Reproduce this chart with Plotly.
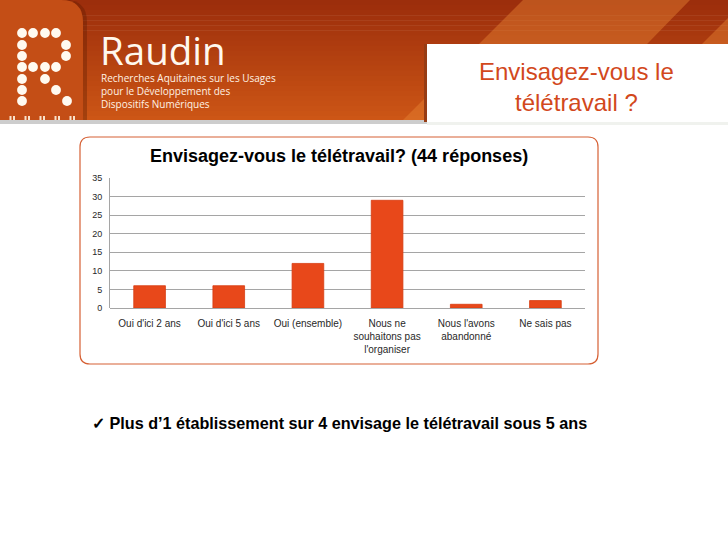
import plotly.graph_objects as go

# ---- data ----
categories = ["Oui d'ici 2 ans", "Oui d'ici 5 ans", "Oui (ensemble)",
              "Nous ne souhaitons pas l'organiser", "Nous l'avons abandonné", "Ne sais pas"]
tick_labels = ["Oui d'ici 2 ans", "Oui d'ici 5 ans", "Oui (ensemble)",
               "Nous ne<br>souhaitons pas<br>l'organiser", "Nous l'avons<br>abandonné", "Ne sais pas"]
values = [6, 6, 12, 29, 1, 2]
y_ticks = [0, 5, 10, 15, 20, 25, 30, 35]

chart_title = "Envisagez-vous le télétravail? (44 réponses)"
slide_title = "Envisagez-vous le<br>télétravail ?"
bullet_text = "✓ Plus d’1 établissement sur 4 envisage le télétravail sous 5 ans"
brand = "Raudin"
brand_lines = ["Recherches Aquitaines sur les Usages",
               "pour le Développement des",
               "Dispositifs Numériques"]

W, H = 728, 546
FONT = "Liberation Sans, Arial, sans-serif"


def X(p):
    return p / W


def Y(p):
    return 1 - p / H


def rrect_path(x0, y0, x1, y1, r, corners=(True, True, True, True)):
    tl, tr, br, bl = corners
    rx = lambda v: f"{X(v):.5f}"
    ry = lambda v: f"{Y(v):.5f}"
    p = []
    p.append(f"M {rx(x0 + (r if tl else 0))},{ry(y0)}")
    if tr:
        p.append(f"L {rx(x1 - r)},{ry(y0)}")
        p.append(f"Q {rx(x1)},{ry(y0)} {rx(x1)},{ry(y0 + r)}")
    else:
        p.append(f"L {rx(x1)},{ry(y0)}")
    if br:
        p.append(f"L {rx(x1)},{ry(y1 - r)}")
        p.append(f"Q {rx(x1)},{ry(y1)} {rx(x1 - r)},{ry(y1)}")
    else:
        p.append(f"L {rx(x1)},{ry(y1)}")
    if bl:
        p.append(f"L {rx(x0 + r)},{ry(y1)}")
        p.append(f"Q {rx(x0)},{ry(y1)} {rx(x0)},{ry(y1 - r)}")
    else:
        p.append(f"L {rx(x0)},{ry(y1)}")
    if tl:
        p.append(f"L {rx(x0)},{ry(y0 + r)}")
        p.append(f"Q {rx(x0)},{ry(y0)} {rx(x0 + r)},{ry(y0)}")
    else:
        p.append(f"L {rx(x0)},{ry(y0)}")
    p.append("Z")
    return " ".join(p)


def poly_path(pts):
    return "M " + " L ".join(f"{X(a):.5f},{Y(b):.5f}" for a, b in pts) + " Z"


shapes = []
# header gradient strips
top_c = (156, 46, 12)
bot_c = (205, 86, 22)
n = 24
hh = 121
for i in range(n):
    t = i / (n - 1)
    c = tuple(int(top_c[k] + (bot_c[k] - top_c[k]) * t) for k in range(3))
    y0 = hh * i / n
    y1 = hh * (i + 1) / n + 0.6
    shapes.append(dict(type="rect", xref="paper", yref="paper", x0=0, x1=1,
                       y0=Y(y1), y1=Y(y0), fillcolor=f"rgb{c}", line_width=0, layer="below"))
# diagonal lighter stripes
shapes.append(dict(type="path", xref="paper", yref="paper",
                   path=poly_path([(402, 121), (523, 0), (690, 0), (572, 121)]),
                   fillcolor="rgba(230,130,50,0.45)", line_width=0, layer="below"))
shapes.append(dict(type="path", xref="paper", yref="paper",
                   path=poly_path([(700, 46), (728, 18), (728, 46)]),
                   fillcolor="rgba(230,130,50,0.45)", line_width=0, layer="below"))
# logo panel shadow + panel
shapes.append(dict(type="path", xref="paper", yref="paper",
                   path=rrect_path(-10, 0, 87, 121, 22, (False, True, False, False)),
                   fillcolor="rgba(90,25,0,0.35)", line_width=0, layer="below"))
shapes.append(dict(type="path", xref="paper", yref="paper",
                   path=rrect_path(-10, 0, 83, 121, 22, (False, True, False, False)),
                   fillcolor="rgb(196,78,22)", line_width=0, layer="below"))
# header bottom shadow
shapes.append(dict(type="rect", xref="paper", yref="paper", x0=0, x1=X(427),
                   y0=Y(124), y1=Y(120), fillcolor="rgb(205,205,205)", line_width=0, layer="below"))
shapes.append(dict(type="rect", xref="paper", yref="paper", x0=X(427), x1=1,
                   y0=Y(125), y1=Y(122), fillcolor="rgb(240,242,238)", line_width=0, layer="below"))
# white title box
shapes.append(dict(type="rect", xref="paper", yref="paper", x0=X(424), x1=X(427),
                   y0=Y(122), y1=Y(44), fillcolor="rgb(150,60,20)", line_width=0, layer="below"))
shapes.append(dict(type="rect", xref="paper", yref="paper", x0=X(427), x1=1,
                   y0=Y(122), y1=Y(44), fillcolor="white", line_width=0, layer="below"))
# logo dots
dots = [(22, 33), (33, 33), (45, 33), (56, 33),
        (22, 45), (66, 45),
        (22, 56), (66, 56),
        (22, 67), (33, 67), (45, 67), (56, 67),
        (22, 79), (45, 79),
        (22, 90), (56, 90),
        (22, 101), (67, 101)]
for cx, cy in dots:
    r = 4.9
    shapes.append(dict(type="circle", xref="paper", yref="paper",
                       x0=X(cx - r), x1=X(cx + r), y0=Y(cy + r), y1=Y(cy - r),
                       fillcolor="rgb(255,250,240)", line_width=0, layer="below"))
for sx in [12, 27, 42, 57, 72]:
    for dx in (-2.5, 1.0):
        shapes.append(dict(type="rect", xref="paper", yref="paper",
                           x0=X(sx + dx), x1=X(sx + dx + 2), y0=Y(120), y1=Y(116),
                           fillcolor="rgb(250,225,200)", line_width=0, layer="below"))
# chart box
shapes.append(dict(type="path", xref="paper", yref="paper",
                   path=rrect_path(80, 137, 598, 364, 10),
                   fillcolor="white", line=dict(color="rgb(214,96,52)", width=1.2), layer="below"))

annotations = [
    dict(text=brand, x=X(98), y=Y(50), xanchor="left", yanchor="middle",
         font=dict(family="Open Sans, DejaVu Sans", size=38.5, color="rgb(255,248,238)")),
    dict(text="<br>".join(brand_lines), x=X(99), y=Y(91), xanchor="left", yanchor="middle",
         align="left",
         font=dict(family="Open Sans, DejaVu Sans", size=10, color="rgb(255,242,228)")),
    dict(text=slide_title, x=X(576), y=Y(87), xanchor="center", yanchor="middle", align="center",
         font=dict(family=FONT, size=24, color="rgb(210,72,28)")),
    dict(text=f"<b>{chart_title}</b>", x=X(339), y=Y(156), xanchor="center", yanchor="middle",
         font=dict(family=FONT, size=18, color="black")),
    dict(text=f"<b>{bullet_text}</b>", x=X(90), y=Y(423), xanchor="left", yanchor="middle",
         font=dict(family=FONT, size=16.2, color="black")),
]
for a in annotations:
    a.update(xref="paper", yref="paper", showarrow=False)

fig = go.Figure()
fig.add_trace(go.Bar(x=categories, y=values,
                     marker=dict(color="rgb(232,72,26)", line=dict(color="rgb(215,60,18)", width=0.8)),
                     width=0.4, hoverinfo="x+y"))

fig.update_layout(
    width=W, height=H,
    margin=dict(l=0, r=0, t=0, b=0, pad=0, autoexpand=False),
    paper_bgcolor="white", plot_bgcolor="rgba(0,0,0,0)",
    showlegend=False,
    font=dict(family=FONT),
    shapes=shapes,
    annotations=annotations,
    xaxis=dict(domain=[X(110), X(585)], tickvals=categories, ticktext=tick_labels,
               tickangle=0, automargin=False,
               showgrid=False, showline=False, zeroline=False,
               ticks="outside", ticklen=6, tickcolor="rgba(0,0,0,0)",
               tickfont=dict(size=10, color="rgb(40,40,40)"), fixedrange=True),
    yaxis=dict(domain=[Y(308), Y(178)], range=[0, 35], tickvals=y_ticks, automargin=False,
               showgrid=True, gridcolor="rgb(165,165,165)", gridwidth=1,
               showline=True, linecolor="rgb(165,165,165)", linewidth=1,
               zeroline=True, zerolinecolor="rgb(165,165,165)", zerolinewidth=1,
               ticks="outside", ticklen=5, tickcolor="rgba(0,0,0,0)",
               tickfont=dict(size=9, color="rgb(40,40,40)"), fixedrange=True),
)

post = ("document.body.style.margin='0';document.body.style.overflow='hidden';"
        "var d=document.getElementById('{plot_id}');"
        "d.style.position='absolute';d.style.top='0px';d.style.left='0px';")

fig.write_html("out.html", config={"displayModeBar": False}, post_script=post)
